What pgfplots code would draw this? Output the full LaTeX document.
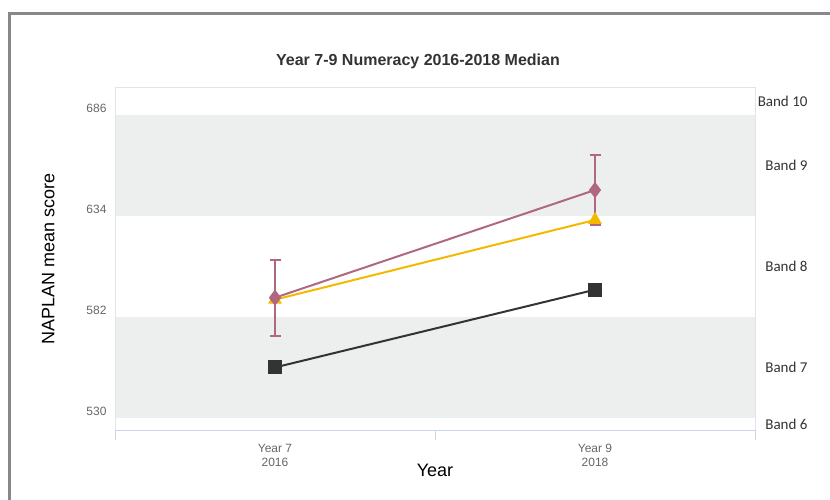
\documentclass[border=0pt]{standalone}
\usepackage{fontspec}
\setmainfont{Liberation Sans}
\newfontfamily\bandfont{Carlito}
\usepackage{pgfplots}
\pgfplotsset{compat=1.18}

\definecolor{framegray}{RGB}{136,136,140}
\definecolor{bandgray}{RGB}{237,238,238}
\definecolor{plotline}{RGB}{224,228,236}
\definecolor{axisblue}{RGB}{204,214,235}
\definecolor{ticktext}{RGB}{102,102,102}
\definecolor{darkser}{RGB}{51,51,51}
\definecolor{goldser}{RGB}{245,184,0}
\definecolor{mauveser}{RGB}{176,104,128}

\begin{document}
\begin{tikzpicture}[x=1pt,y=1pt]
\path[use as bounding box] (0,0) rectangle (830,499);
% outer frame
\draw[framegray, line width=3pt] (9.5,-5) -- (9.5,485.5) -- (840,485.5);
\node[font=\bfseries\fontsize{16}{18}\selectfont, text=darkser] at (418,438) {Year 7-9 Numeracy 2016-2018 Median};

\begin{axis}[
    at={(115pt,69pt)}, anchor=south west,
    scale only axis, width=640pt, height=342pt,
    xmin=-0.5, xmax=1.5, ymin=524, ymax=700,
    clip=false,
    axis line style={draw=none},
    /pgf/number format/assume math mode=true,
    xtick={0,1},
    xticklabels={{Year 7\\2016},{Year 9\\2018}},
    xticklabel style={align=center, text=ticktext, font=\fontsize{12}{14}\selectfont, yshift=-6pt},
    major x tick style={draw=none},
    minor xtick={-0.5,0.5,1.5},
    minor tick length=10pt,
    minor x tick style={axisblue, line width=1pt},
    xtick align=outside,
    xtick pos=bottom,
    ytick={530,582,634,686},
    yticklabel style={text=ticktext, font=\fontsize{12}{14}\selectfont, yshift=7pt, xshift=-5pt},
    ytick style={draw=none},
    ylabel={NAPLAN mean score},
    ylabel style={font=\fontsize{18}{20}\selectfont, yshift=25pt},
    xlabel={Year},
    xlabel style={font=\fontsize{18}{20}\selectfont, yshift=9pt},
]
% score bands
\fill[bandgray] (axis cs:-0.5,634) rectangle (axis cs:1.5,686);
\fill[bandgray] (axis cs:-0.5,530) rectangle (axis cs:1.5,582);
\draw[plotline, line width=1pt] (axis cs:-0.5,524) -- (axis cs:-0.5,700) -- (axis cs:1.5,700) -- (axis cs:1.5,524);
\draw[axisblue, line width=1pt] (axis cs:-0.5,524) -- (axis cs:1.5,524);

\node[anchor=east, font=\bandfont\fontsize{15}{17}\selectfont, text=darkser] at (axis cs:1.5,693) [xshift=56pt] {Band 10};
\node[anchor=east, font=\bandfont\fontsize{15}{17}\selectfont, text=darkser] at (axis cs:1.5,660) [xshift=56pt] {Band 9};
\node[anchor=east, font=\bandfont\fontsize{15}{17}\selectfont, text=darkser] at (axis cs:1.5,608) [xshift=56pt] {Band 8};
\node[anchor=east, font=\bandfont\fontsize{15}{17}\selectfont, text=darkser] at (axis cs:1.5,556) [xshift=56pt] {Band 7};
\node[anchor=east, font=\bandfont\fontsize{15}{17}\selectfont, text=darkser] at (axis cs:1.5,527) [xshift=56pt] {Band 6};

\addplot[darkser, line width=2pt, mark=square*, mark size=6pt, mark options={solid}]
  coordinates {(0,556.2) (1,596.2)};
\addplot[goldser, line width=2pt, mark=triangle*, mark size=6pt]
  coordinates {(0,591.1) (1,632.1)};
\addplot[mauveser, line width=2pt, mark=diamond*, mark size=6.5pt,
  error bars/.cd, y dir=both, y explicit,
  error bar style={line width=2pt, mauveser},
  error mark options={rotate=90, mark size=5.5pt, line width=2pt, mauveser}]
  coordinates {(0,592.1) +- (0,19.5) (1,647.5) +- (0,18.0)};
\end{axis}
\end{tikzpicture}
\end{document}
